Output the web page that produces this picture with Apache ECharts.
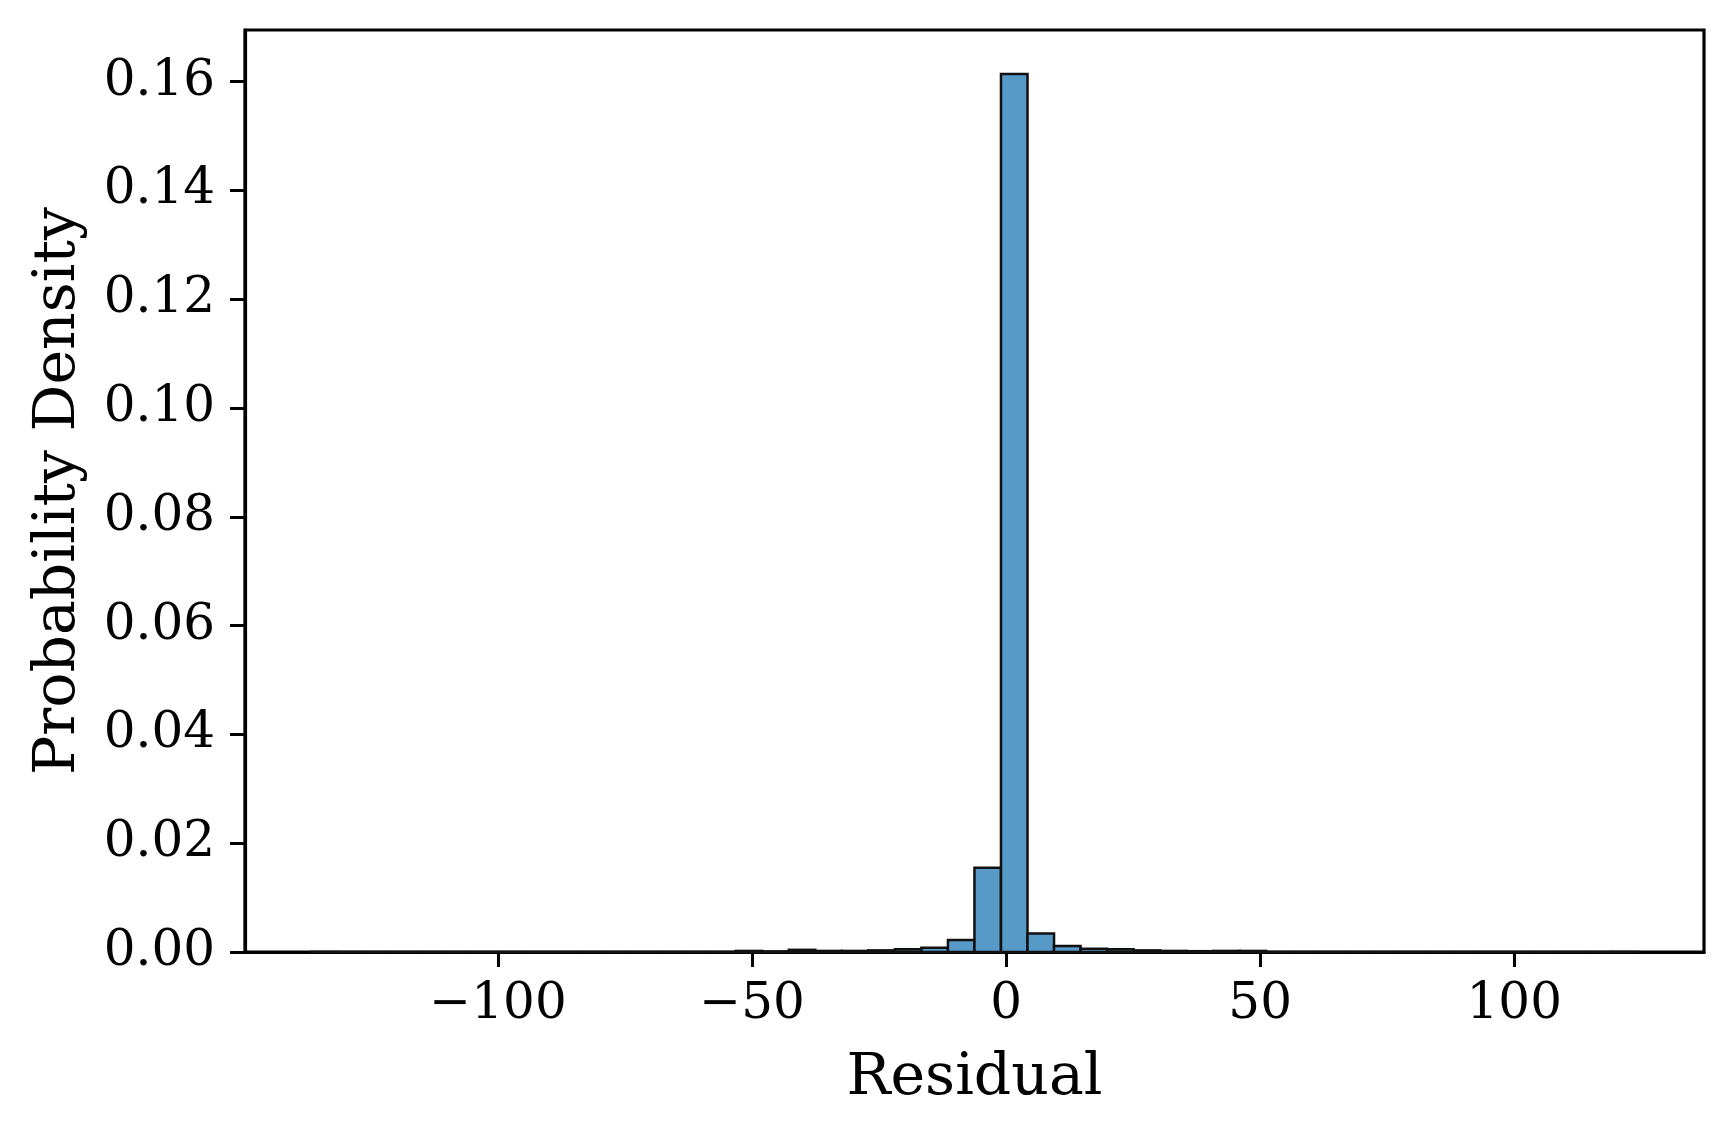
<!DOCTYPE html>
<html>
<head>
<meta charset="utf-8">
<script src="https://cdn.jsdelivr.net/npm/echarts@6/dist/echarts.min.js"></script>
<style>
  html, body { margin: 0; padding: 0; background: #fff; }
  #chart { width: 1733px; height: 1134px; }
</style>
</head>
<body>
<div id="chart"></div>
<script>
// histogram: 50 bins of equal width
const binStart = -136.76;
const binWidth = 5.221;
const density = [
  0.00002, 0, 0, 0, 0, 0, 0, 0, 0, 0,
  0, 0, 0, 0, 0, 0, 0.0002, 0.0001, 0.0004, 0.0002,
  0.0002, 0.0003, 0.0005, 0.0008, 0.0022, 0.0155, 0.1614, 0.0034, 0.0011, 0.0006,
  0.0005, 0.0003, 0.0002, 0.00015, 0.0002, 0.0002, 0, 0, 0, 0,
  0, 0, 0, 0, 0, 0, 0, 0, 0, 0.00002
];
const xTicks = [-100, -50, 0, 50, 100];
const yTicks = [0, 0.02, 0.04, 0.06, 0.08, 0.10, 0.12, 0.14, 0.16];

const font = 'DejaVu Serif';

const bins = density.map((d, i) => [binStart + i * binWidth, binStart + (i + 1) * binWidth, d]);

const chart = echarts.init(document.getElementById('chart'));

const option = {
  animation: false,
  grid: {
    left: 245, right: 29, top: 30, bottom: 182,
    show: true, borderColor: '#000', borderWidth: 3.2, backgroundColor: 'transparent'
  },
  xAxis: {
    type: 'value',
    min: -149.8,
    max: 137.35,
    splitLine: {show: false},
    axisLine: {show: true, onZero: false, lineStyle: {color: '#000', width: 3.2}},
    axisTick: {show: true, customValues: xTicks, length: 15, lineStyle: {color: '#000', width: 3}},
    axisLabel: {
      customValues: xTicks,
      margin: 28,
      color: '#000',
      fontFamily: font,
      fontSize: 50,
      formatter: v => v < 0 ? '\u2212' + (-v) : String(v)
    },
    name: 'Residual',
    nameLocation: 'middle',
    nameGap: 97,
    nameTextStyle: {color: '#000', fontFamily: font, fontSize: 58.5}
  },
  yAxis: {
    type: 'value',
    min: 0,
    max: 0.1695,
    splitLine: {show: false},
    axisLine: {show: true, onZero: false, lineStyle: {color: '#000', width: 3.2}},
    axisTick: {show: true, customValues: yTicks, length: 15, lineStyle: {color: '#000', width: 3}},
    axisLabel: {
      customValues: yTicks,
      margin: 30,
      color: '#000',
      fontFamily: font,
      fontSize: 50,
      formatter: v => v.toFixed(2)
    },
    name: 'Probability Density',
    nameLocation: 'middle',
    nameGap: 157,
    nameTextStyle: {color: '#000', fontFamily: font, fontSize: 58.5}
  },
  series: [{
    type: 'custom',
    data: bins,
    encode: {x: [0, 1], y: 2},
    renderItem: (params, api) => {
      const p0 = api.coord([api.value(0), 0]);
      const p1 = api.coord([api.value(1), api.value(2)]);
      return {
        type: 'rect',
        shape: {x: p0[0], y: p1[1], width: p1[0] - p0[0], height: p0[1] - p1[1]},
        style: {fill: '#5799c7', stroke: '#111', lineWidth: 2.5}
      };
    }
  }]
};

chart.setOption(option);
</script>
</body>
</html>
